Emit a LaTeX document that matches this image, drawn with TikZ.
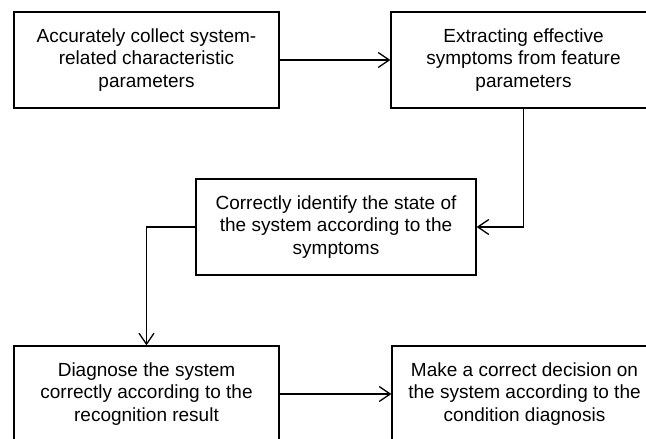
\documentclass[tikz,border=0pt]{standalone}
\usepackage{fontspec}
\setmainfont{Liberation Sans}
\usetikzlibrary{arrows.meta}
\tikzset{box/.style={draw, rectangle, minimum width=265pt, minimum height=96pt, inner sep=0pt, align=center,
    font=\fontsize{19}{22.5}\selectfont},
  flow/.style={-{Straight Barb[length=11pt,width=15pt,line width=1.3pt]}}}

\begin{document}
\begin{tikzpicture}[x=1pt,y=1pt,line width=1.3pt]
   \clip (0,0) rectangle (646,439);
   \node[box] (collect)  at (146.5,379) {Accurately collect system-\\related characteristic\\parameters};
   \node[box] (extract)  at (523.5,379) {Extracting effective\\symptoms from feature\\parameters};
   \node[box, minimum width=280pt] (identify) at (336,212) {Correctly identify the state of\\the system according to the\\symptoms};
   \node[box] (diagnose) at (146.5,45) {Diagnose the system\\correctly according to the\\recognition result};
   \node[box] (decide)   at (524.5,45) {Make a correct decision on\\the system according to the\\condition diagnosis};
   \draw[flow] (collect) -- (extract);
   \draw[flow] (extract.south) |- (identify);
   \draw[flow] (identify) -| (diagnose);
   \draw[flow] (diagnose) -- (decide);
\end{tikzpicture}
\end{document}
